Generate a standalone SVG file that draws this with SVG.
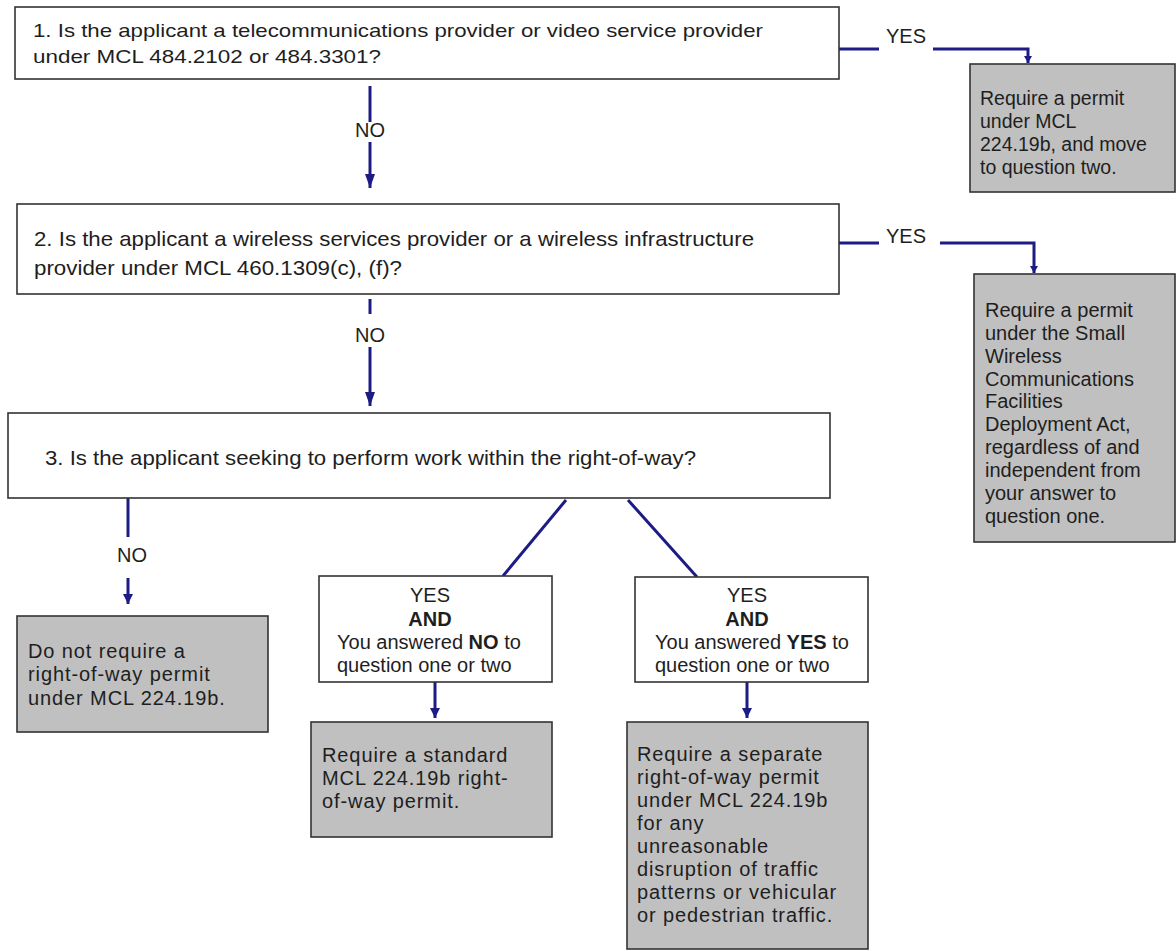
<svg xmlns="http://www.w3.org/2000/svg" width="1176" height="951" viewBox="0 0 1176 951">
<style>
text{font-family:"Liberation Sans",Arial,sans-serif;fill:#1e1e1e;}
.q{font-size:19px;}
.r{font-size:20px;}
.r1{font-size:19.5px;}
.rs{font-size:20px;letter-spacing:0.9px;}
.lbl{font-size:20px;}
.b{font-weight:bold;}
.box{fill:#fff;stroke:#333;stroke-width:1.6;}
.gbox{fill:#c0c0c0;stroke:#333;stroke-width:1.6;}
.c{fill:none;stroke:#1c1c84;stroke-width:3;}
</style>
<defs>
<marker id="big" viewBox="0 0 14 10" markerWidth="14" markerHeight="10" refX="14" refY="5" orient="auto" markerUnits="userSpaceOnUse"><path d="M0,0L14,5L0,10z" fill="#1c1c84"/></marker>
<marker id="sm" viewBox="0 0 10 10" markerWidth="10" markerHeight="10" refX="10" refY="5" orient="auto" markerUnits="userSpaceOnUse"><path d="M0,0L10,5L0,10z" fill="#1c1c84"/></marker>
<marker id="tiny" viewBox="0 0 7 8" markerWidth="7" markerHeight="8" refX="7" refY="4" orient="auto" markerUnits="userSpaceOnUse"><path d="M0,0L7,4L0,8z" fill="#1c1c84"/></marker>
</defs>

<g id="connectors">
<path class="c" d="M370,86V122"/>
<path class="c" d="M370,142V188" marker-end="url(#big)"/>
<path class="c" d="M839,49H879"/>
<path class="c" d="M933,49H1028V63" marker-end="url(#tiny)"/>
<path class="c" d="M370,299V314"/>
<path class="c" d="M370,347V406" marker-end="url(#big)"/>
<path class="c" d="M839,243H879"/>
<path class="c" d="M940,243H1034V273" marker-end="url(#tiny)"/>
<path class="c" d="M128,498V537"/>
<path class="c" d="M128,578V604" marker-end="url(#sm)"/>
<path class="c" d="M566,500L503,576"/>
<path class="c" d="M628,500L697,577"/>
<path class="c" d="M435,682V718" marker-end="url(#sm)"/>
<path class="c" d="M747,682V718" marker-end="url(#sm)"/>
<text class="lbl" x="370" y="137" text-anchor="middle">NO</text>
<text class="lbl" x="370" y="342" text-anchor="middle">NO</text>
<text class="lbl" x="132" y="562" text-anchor="middle">NO</text>
<text class="lbl" x="886" y="43">YES</text>
<text class="lbl" x="886" y="243">YES</text>
</g>

<g id="q1">
<rect class="box" x="15" y="7" width="824" height="72"/>
<text class="q" x="33" y="37" textLength="730" lengthAdjust="spacingAndGlyphs">1. Is the applicant a telecommunications provider or video service provider</text>
<text class="q" x="33" y="63" textLength="348" lengthAdjust="spacingAndGlyphs">under MCL 484.2102 or 484.3301?</text>
</g>

<g id="r1">
<rect class="gbox" x="970" y="64" width="205" height="128"/>
<text class="r1" x="980" y="105">Require a permit</text>
<text class="r1" x="980" y="128">under MCL</text>
<text class="r1" x="980" y="151">224.19b, and move</text>
<text class="r1" x="980" y="174">to question two.</text>
</g>

<g id="q2">
<rect class="box" x="17" y="204" width="822" height="90"/>
<text class="q" x="34" y="246" textLength="720" lengthAdjust="spacingAndGlyphs" style="font-size:21px">2. Is the applicant a wireless services provider or a wireless infrastructure</text>
<text class="q" x="34" y="275" textLength="368" lengthAdjust="spacingAndGlyphs" style="font-size:21px">provider under MCL 460.1309(c), (f)?</text>
</g>

<g id="r2">
<rect class="gbox" x="974" y="274" width="201" height="268"/>
<text class="r" x="985" y="317">Require a permit</text>
<text class="r" x="985" y="340">under the Small</text>
<text class="r" x="985" y="363">Wireless</text>
<text class="r" x="985" y="386">Communications</text>
<text class="r" x="985" y="408">Facilities</text>
<text class="r" x="985" y="431">Deployment Act,</text>
<text class="r" x="985" y="454">regardless of and</text>
<text class="r" x="985" y="477">independent from</text>
<text class="r" x="985" y="500">your answer to</text>
<text class="r" x="985" y="523">question one.</text>
</g>

<g id="q3">
<rect class="box" x="8" y="413" width="822" height="85"/>
<text class="q" x="45" y="465" textLength="651" lengthAdjust="spacingAndGlyphs" style="font-size:21px">3. Is the applicant seeking to perform work within the right-of-way?</text>
</g>

<g id="rno">
<rect class="gbox" x="17" y="616" width="251" height="116"/>
<text class="rs" x="28" y="658">Do not require a</text>
<text class="rs" x="28" y="681">right-of-way permit</text>
<text class="rs" x="28" y="705">under MCL 224.19b.</text>
</g>

<g id="yesno">
<rect class="box" x="319" y="576" width="233" height="106"/>
<text class="r" x="430" y="602" text-anchor="middle">YES</text>
<text class="r b" x="430" y="626" text-anchor="middle">AND</text>
<text class="r" x="337" y="649">You answered <tspan class="b">NO</tspan> to</text>
<text class="r" x="337" y="672">question one or two</text>
</g>

<g id="yesyes">
<rect class="box" x="635" y="577" width="233" height="105"/>
<text class="r" x="747" y="602" text-anchor="middle">YES</text>
<text class="r b" x="747" y="626" text-anchor="middle">AND</text>
<text class="r" x="655" y="649">You answered <tspan class="b">YES</tspan> to</text>
<text class="r" x="655" y="672">question one or two</text>
</g>

<g id="rstd">
<rect class="gbox" x="311" y="722" width="241" height="115"/>
<text class="rs" x="322" y="762">Require a standard</text>
<text class="rs" x="322" y="785">MCL 224.19b right-</text>
<text class="rs" x="322" y="808">of-way permit.</text>
</g>

<g id="rsep">
<rect class="gbox" x="627" y="722" width="241" height="227"/>
<text class="rs" x="637" y="761">Require a separate</text>
<text class="rs" x="637" y="784">right-of-way permit</text>
<text class="rs" x="637" y="807">under MCL 224.19b</text>
<text class="rs" x="637" y="830">for any</text>
<text class="rs" x="637" y="853">unreasonable</text>
<text class="rs" x="637" y="876">disruption of traffic</text>
<text class="rs" x="637" y="899">patterns or vehicular</text>
<text class="rs" x="637" y="922">or pedestrian traffic.</text>
</g>
</svg>
